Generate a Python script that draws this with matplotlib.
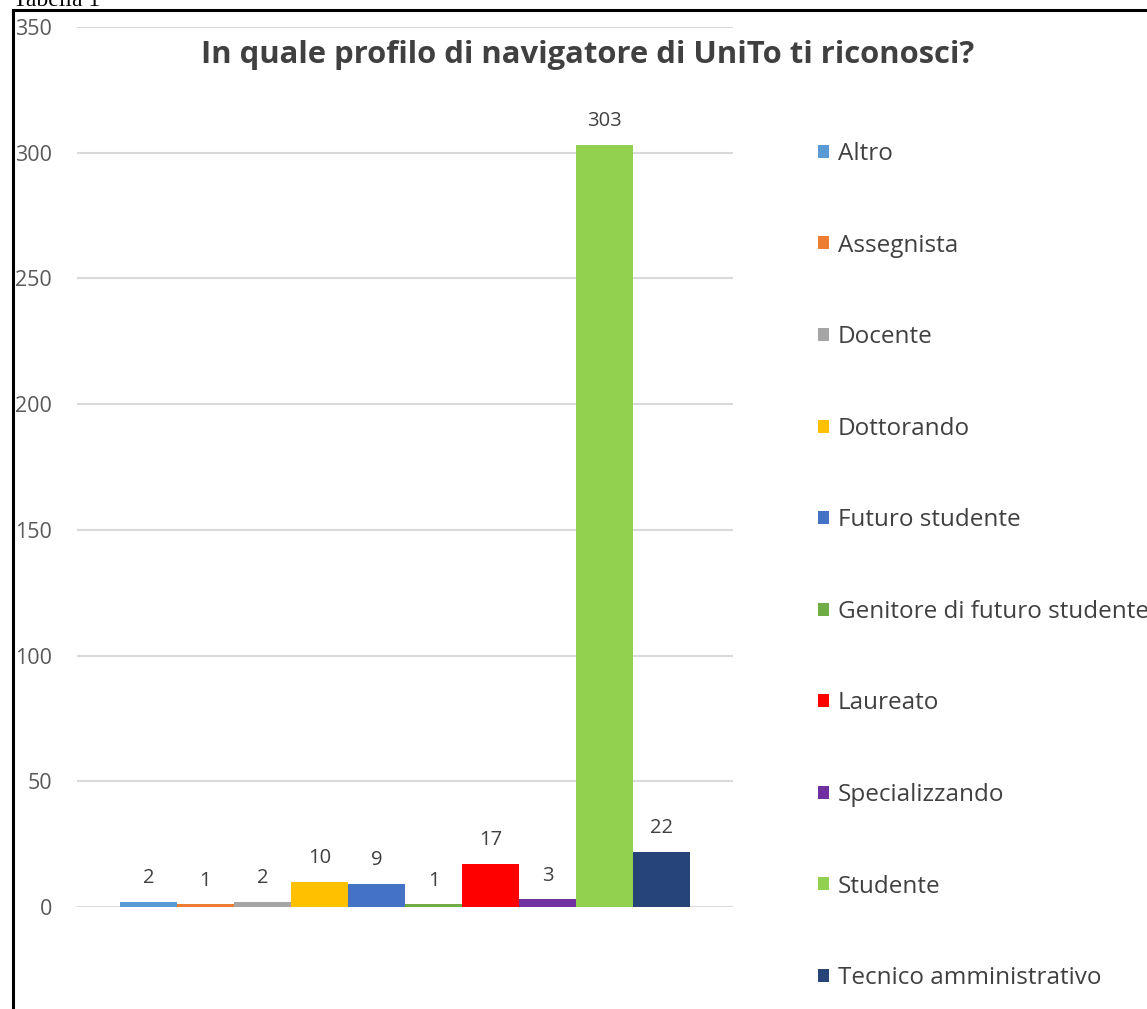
import matplotlib.pyplot as plt
from matplotlib.lines import Line2D

# categorie e valori
profili = ['Altro', 'Assegnista', 'Docente', 'Dottorando', 'Futuro studente',
           'Genitore di futuro studente', 'Laureato', 'Specializzando',
           'Studente', 'Tecnico amministrativo']
valori = [2, 1, 2, 10, 9, 1, 17, 3, 303, 22]
colori = ['#5B9BD5', '#ED7D31', '#A5A5A5', '#FFC000', '#4472C4',
          '#70AD47', '#FF0000', '#7030A0', '#92D050', '#264478']
yticks = [0, 50, 100, 150, 200, 250, 300, 350]

plt.rcParams['font.family'] = ['Open Sans', 'DejaVu Sans']

fig = plt.figure(figsize=(11.47, 10.09), dpi=100)
ax = fig.add_axes([0.0671, 0.1011, 0.572, 0.8721])

barre = []
for i in range(len(valori)):
    b = ax.bar(i, valori[i], width=1.0, color=colori[i], label=profili[i], zorder=3)
    barre.append(b)
    ax.bar_label(b, padding=10, fontsize=14.5, color='#404040')

ax.set_xlim(-0.5 - 0.754, len(valori) - 0.5 + 0.754)
ax.set_ylim(0, 350)
ax.set_yticks(yticks)
ax.set_xticks([])
ax.grid(axis='y', color='#D9D9D9', linewidth=1.5, zorder=0)
for s in ax.spines.values():
    s.set_visible(False)
ax.tick_params(axis='y', length=0, pad=18, labelsize=15.5, labelcolor='#595959')

fig.text(0.5126, 1 - 55 / 1009, 'In quale profilo di navigatore di UniTo ti riconosci?',
         ha='center', va='center', fontsize=22.3, fontweight='bold', color='#404040')

fig.legend(handles=barre, labels=profili, loc='upper left',
           bbox_to_anchor=(818 / 1147, 1 - 142 / 1009), frameon=False,
           fontsize=17.5, labelcolor='#404040', handlelength=0.45, handleheight=0.45,
           handletextpad=0.37, labelspacing=2.78, borderpad=0, borderaxespad=0)

# cornice della tabella
fig.add_artist(Line2D([13 / 1147, 13 / 1147], [0, 1 - 10 / 1009], transform=fig.transFigure,
                      color='black', linewidth=2.2))
fig.add_artist(Line2D([13 / 1147, 1], [1 - 10 / 1009, 1 - 10 / 1009], transform=fig.transFigure,
                      color='black', linewidth=2.2))
fig.text(13 / 1147, 1 - 6 / 1009, 'Tabella 1', family='Liberation Serif', fontsize=17,
         va='baseline', ha='left', color='black')

fig.savefig('out.png', dpi=100)
